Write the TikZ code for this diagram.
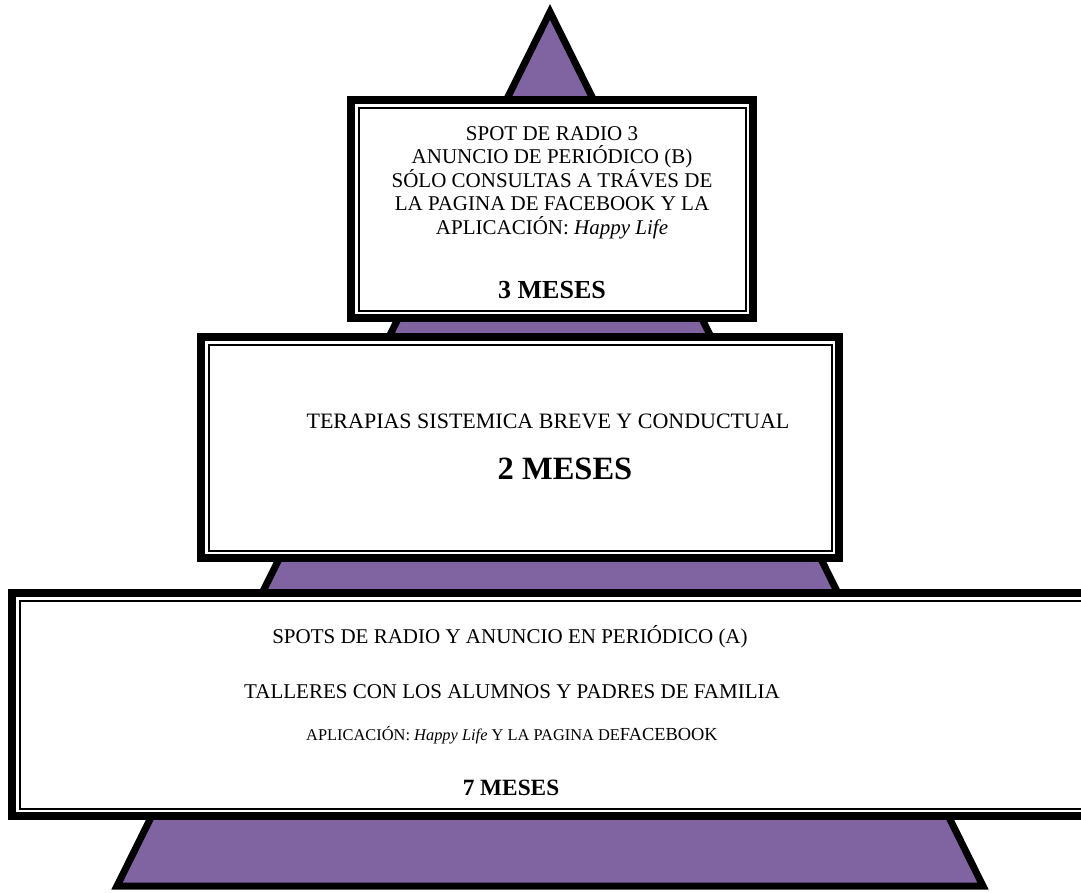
\documentclass[tikz,border=0pt]{standalone}
\usepackage{fontspec}
\setmainfont{Liberation Serif}
\usetikzlibrary{calc}
\definecolor{piramide}{HTML}{8064A2}
\tikzset{caja/.style={draw,line width=8pt,fill=white,inner sep=0pt,path picture={\draw[line width=2pt]([shift={(7.5pt,-7.5pt)}]path picture bounding box.north west)rectangle([shift={(-7.5pt,7.5pt)}]path picture bounding box.south east);}},
txt/.style={anchor=base,inner sep=0pt,font=\fontsize{21}{23.5}\selectfont},
meses/.style={anchor=base,inner sep=0pt,font=\bfseries\fontsize{26}{28}\selectfont}}

\begin{document}
\begin{tikzpicture}[x=1pt,y=-1pt]
\useasboundingbox(0,0)rectangle(1081,892);
\draw[line width=7pt,fill=piramide,line join=miter](550,12)--(983,886)--(117,886)--cycle;
\node[caja,minimum width=402pt,minimum height=218pt](c1)at(552,209){};
\node[caja,minimum width=638pt,minimum height=221pt](c2)at(520,447.5){};
\node[caja,minimum width=1088pt,minimum height=223pt](c3)at(556,704.5){};
\node[txt,align=center](t1)at(552,234){SPOT DE RADIO 3\\ANUNCIO DE PERIÓDICO (B)\\SÓLO CONSULTAS A TRÁVES DE\\LA PAGINA DE FACEBOOK Y LA\\APLICACIÓN: \textit{Happy Life}};
\node[meses](m1)at(552,298){3 MESES};
\node[txt,font=\fontsize{22}{24}\selectfont](t2)at(548,428){TERAPIAS SISTEMICA BREVE Y CONDUCTUAL};
\node[meses,font=\bfseries\fontsize{32.5}{34}\selectfont](m2)at(565,479){2 MESES};
\node[txt](t3)at(510,643){SPOTS DE RADIO Y ANUNCIO EN PERIÓDICO (A)};
\node[txt](t4)at(512,698){TALLERES CON LOS ALUMNOS Y PADRES DE FAMILIA};
\node[txt,font=\fontsize{16.4}{18}\selectfont](t5)at(512,740){APLICACIÓN: \textit{Happy Life} Y LA PAGINA DE{\fontsize{18.4}{20}\selectfont FACEBOOK}};
\node[meses,font=\bfseries\fontsize{23.3}{25}\selectfont](m3)at(511,795){7 MESES};
\end{tikzpicture}
\end{document}
